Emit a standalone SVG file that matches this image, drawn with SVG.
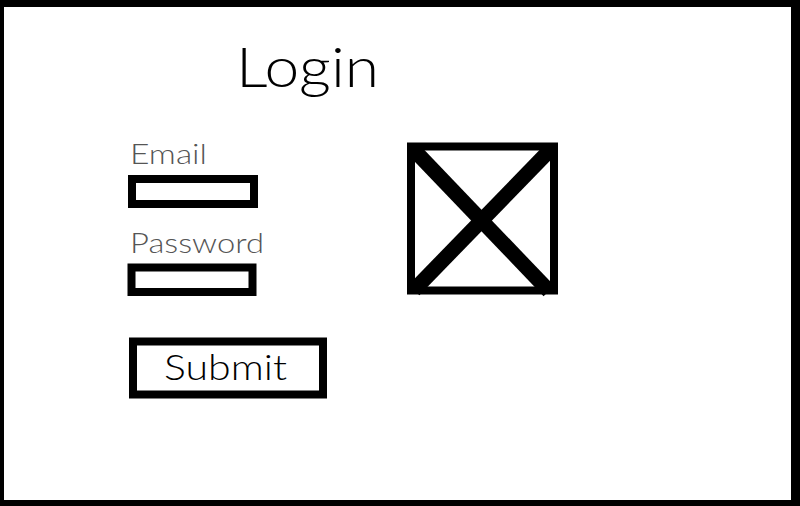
<svg xmlns="http://www.w3.org/2000/svg" width="800" height="506" viewBox="0 0 800 506">
<style>
.box{fill:#fff;stroke:#000;stroke-width:8}
.lbl{font-family:Lato,"Open Sans","Liberation Sans",sans-serif;font-weight:300;fill:#555;font-size:28px}
.dark{font-family:Lato,"Open Sans","Liberation Sans",sans-serif;font-weight:300;fill:#000}
</style>
<rect x="0" y="0" width="800" height="506" fill="#000"/>
<rect x="4" y="7" width="787" height="493" fill="#fff"/>
<g id="title"><text class="dark" x="236" y="87" font-size="56" textLength="143" lengthAdjust="spacingAndGlyphs">Login</text></g>
<g id="email-label"><text class="lbl" x="130" y="164" textLength="77" lengthAdjust="spacingAndGlyphs">Email</text></g>
<g id="email-input"><rect class="box" x="132" y="179" width="122" height="25"/></g>
<g id="password-label"><text class="lbl" x="130" y="253" textLength="134" lengthAdjust="spacingAndGlyphs">Password</text></g>
<g id="password-input"><rect class="box" x="131.5" y="267.5" width="121" height="24.5"/></g>
<g id="submit"><rect class="box" x="133" y="341.5" width="190" height="53"/>
<text class="dark" x="164" y="380" font-size="36" textLength="123" lengthAdjust="spacingAndGlyphs">Submit</text></g>
<g id="image-placeholder"><rect class="box" x="411" y="146.5" width="143" height="144" stroke-width="9"/>
<line x1="414" y1="150" x2="549" y2="291" stroke="#000" stroke-width="15"/>
<line x1="414" y1="290" x2="550" y2="150" stroke="#000" stroke-width="15"/></g>
</svg>
